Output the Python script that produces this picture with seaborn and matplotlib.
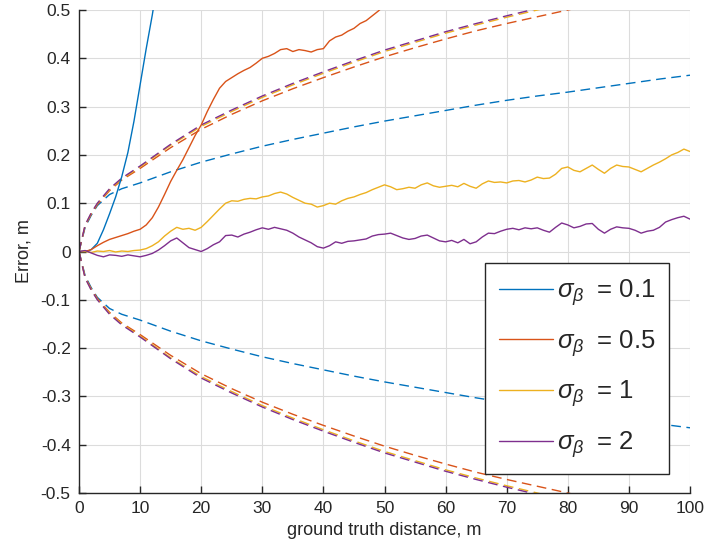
import numpy as np
import pandas as pd
import matplotlib
matplotlib.use("Agg")
import matplotlib.pyplot as plt
import seaborn as sns
from matplotlib.lines import Line2D

# ---------------- data ----------------
sigma_labels = ["0.1", "0.5", "1", "2"]

x_blue = [0, 1, 1.5, 2, 3, 4, 5, 6, 7, 8, 9, 10, 11, 12, 12.5]
y_blue = [0, 0, 0.001, 0.004, 0.017, 0.045, 0.078, 0.113, 0.155, 0.205,
          0.27, 0.345, 0.42, 0.49, 0.53]

x_orange = list(range(0, 52))
y_orange = [0, 0.0, 0.004, 0.012, 0.019, 0.025, 0.029, 0.033, 0.037, 0.042,
            0.046, 0.055, 0.07, 0.092, 0.118, 0.145, 0.168, 0.19, 0.215, 0.24,
            0.262, 0.29, 0.315, 0.338, 0.352, 0.36, 0.368, 0.375, 0.381, 0.39,
            0.4, 0.404, 0.41, 0.418, 0.42, 0.414, 0.418, 0.416, 0.413, 0.418,
            0.42, 0.436, 0.444, 0.448, 0.456, 0.462, 0.472, 0.478, 0.488, 0.498,
            0.51, 0.52]

x_full = list(range(0, 101))
y_yellow = [0, 0.0, -0.002, 0.001, 0.0, 0.002, -0.001, 0.001, 0.0, 0.002,
            0.003, 0.006, 0.012, 0.02, 0.032, 0.042, 0.05, 0.046, 0.048, 0.044,
            0.05, 0.062, 0.075, 0.088, 0.1, 0.105, 0.104, 0.108, 0.11, 0.109,
            0.113, 0.115, 0.12, 0.123, 0.119, 0.112, 0.106, 0.1, 0.098, 0.092,
            0.095, 0.1, 0.098, 0.105, 0.11, 0.113, 0.118, 0.122, 0.128, 0.133,
            0.138, 0.134, 0.128, 0.13, 0.133, 0.131, 0.138, 0.142, 0.136, 0.133,
            0.135, 0.137, 0.134, 0.141, 0.135, 0.131, 0.14, 0.146, 0.143, 0.144,
            0.142, 0.146, 0.147, 0.144, 0.148, 0.154, 0.151, 0.152, 0.16, 0.172,
            0.175, 0.168, 0.165, 0.172, 0.179, 0.17, 0.162, 0.172, 0.179, 0.176,
            0.175, 0.17, 0.165, 0.172, 0.179, 0.185, 0.192, 0.2, 0.205, 0.212,
            0.207]
y_purple = [0, 0.002, -0.003, -0.008, -0.011, -0.007, -0.008, -0.01, -0.007, -0.009,
            -0.011, -0.008, -0.004, 0.003, 0.012, 0.022, 0.028, 0.018, 0.008, 0.004,
            0.0, 0.006, 0.014, 0.02, 0.033, 0.034, 0.03, 0.036, 0.04, 0.045,
            0.049, 0.046, 0.05, 0.047, 0.044, 0.038, 0.03, 0.024, 0.018, 0.01,
            0.007, 0.012, 0.02, 0.017, 0.021, 0.022, 0.024, 0.026, 0.032, 0.035,
            0.036, 0.038, 0.033, 0.028, 0.025, 0.027, 0.032, 0.034, 0.028, 0.022,
            0.02, 0.023, 0.018, 0.025, 0.016, 0.02, 0.03, 0.038, 0.037, 0.042,
            0.046, 0.048, 0.045, 0.049, 0.047, 0.049, 0.044, 0.04, 0.05, 0.059,
            0.055, 0.049, 0.052, 0.057, 0.058, 0.046, 0.038, 0.046, 0.051, 0.049,
            0.048, 0.044, 0.038, 0.042, 0.044, 0.05, 0.061, 0.066, 0.07, 0.073,
            0.067]

# bound (dashed) curves, magnitude; drawn at + and -
x_bound = [0, 1, 2, 3, 5, 7, 10, 15, 20, 25, 30, 35, 40, 45, 50, 55, 60, 65,
           70, 75, 80, 85, 90, 95, 100]
b_blue = [0, 0.05, 0.075, 0.095, 0.118, 0.13, 0.142, 0.165, 0.185, 0.202,
          0.218, 0.232, 0.245, 0.258, 0.27, 0.281, 0.292, 0.303, 0.313, 0.322,
          0.33, 0.339, 0.348, 0.357, 0.365]
b_orange = [0, 0.053, 0.077, 0.097, 0.126, 0.148, 0.172, 0.215, 0.253, 0.284,
            0.312, 0.337, 0.36, 0.382, 0.403, 0.422, 0.44, 0.457, 0.472, 0.486,
            0.5, 0.514, 0.527, 0.54, 0.553]
b_yellow = [0, 0.054, 0.079, 0.099, 0.128, 0.15, 0.175, 0.22, 0.259, 0.29,
            0.319, 0.345, 0.369, 0.392, 0.414, 0.433, 0.452, 0.469, 0.485, 0.5,
            0.515, 0.529, 0.543, 0.556, 0.569]
b_purple = [0, 0.055, 0.08, 0.1, 0.13, 0.152, 0.177, 0.222, 0.262, 0.293,
            0.322, 0.348, 0.372, 0.395, 0.417, 0.436, 0.455, 0.472, 0.488, 0.503,
            0.518, 0.532, 0.546, 0.559, 0.572]

x_ticks = [0, 10, 20, 30, 40, 50, 60, 70, 80, 90, 100]
y_ticks = [-0.5, -0.4, -0.3, -0.2, -0.1, 0, 0.1, 0.2, 0.3, 0.4, 0.5]
y_tick_labels = ["-0.5", "-0.4", "-0.3", "-0.2", "-0.1", "0",
                 "0.1", "0.2", "0.3", "0.4", "0.5"]

colors = ["#0072BD", "#D95319", "#EDB120", "#7E2F8E"]

# ---------------- style ----------------
sns.set_theme(style="white")
plt.rcParams["font.family"] = ["Liberation Sans", "DejaVu Sans"]
plt.rcParams["mathtext.fontset"] = "custom"
plt.rcParams["mathtext.it"] = "Liberation Sans:italic"
plt.rcParams["mathtext.rm"] = "Liberation Sans"
plt.rcParams["axes.unicode_minus"] = False

fig = plt.figure(figsize=(7.06, 5.58), dpi=100)
ax = fig.add_axes([79 / 706, 65 / 558, 611 / 706, 483 / 558])

dash = (7, 4)
lw = 1.0

# dashed bounds
bounds = [b_blue, b_orange, b_yellow, b_purple]
for b, c in zip(bounds, colors):
    dfp = pd.DataFrame({"x": x_bound, "y": b})
    dfn = pd.DataFrame({"x": x_bound, "y": [-v for v in b]})
    sns.lineplot(data=dfp, x="x", y="y", ax=ax, color=c, lw=lw,
                 dashes=False, estimator=None, sort=False).lines[-1].set_dashes(dash)
    sns.lineplot(data=dfn, x="x", y="y", ax=ax, color=c, lw=lw,
                 dashes=False, estimator=None, sort=False).lines[-1].set_dashes(dash)

# solid error curves
solids = [(x_blue, y_blue), (x_orange, y_orange), (x_full, y_yellow), (x_full, y_purple)]
for (xs, ys), c in zip(solids, colors):
    df = pd.DataFrame({"x": xs, "y": ys})
    sns.lineplot(data=df, x="x", y="y", ax=ax, color=c, lw=lw,
                 estimator=None, sort=False)

ax.set_xlim(0, 100)
ax.set_ylim(-0.5, 0.5)
ax.set_xticks(x_ticks)
ax.set_yticks(y_ticks)
ax.set_yticklabels(y_tick_labels)
ax.grid(True, color="#dcdcdc", lw=0.8)
ax.set_axisbelow(True)
for s in ["top", "right"]:
    ax.spines[s].set_visible(False)
for s in ["left", "bottom"]:
    ax.spines[s].set_color("#262626")
    ax.spines[s].set_linewidth(1.0)
ax.tick_params(axis="both", direction="in", length=5, width=1.0,
               colors="#262626", labelsize=12.5, pad=6,
               bottom=True, left=True)
ax.set_xlabel("ground truth distance, m", fontsize=13, color="#262626", labelpad=4)
ax.set_ylabel("Error, m", fontsize=13, color="#262626", labelpad=6)

handles = [Line2D([0], [0], color=c, lw=1.0) for c in colors]
labels = [r"$\sigma_{\beta}\;$ = " + s for s in sigma_labels]
leg = ax.legend(handles, labels, loc="lower right",
                bbox_to_anchor=(0.966, 0.039), fontsize=18.5,
                frameon=True, fancybox=False, framealpha=1,
                edgecolor="#262626", handlelength=2.1, handletextpad=0.15,
                borderpad=0.55, borderaxespad=0.0, labelspacing=0.78)
leg.get_frame().set_linewidth(1.0)

fig.savefig("out.png", dpi=100)
